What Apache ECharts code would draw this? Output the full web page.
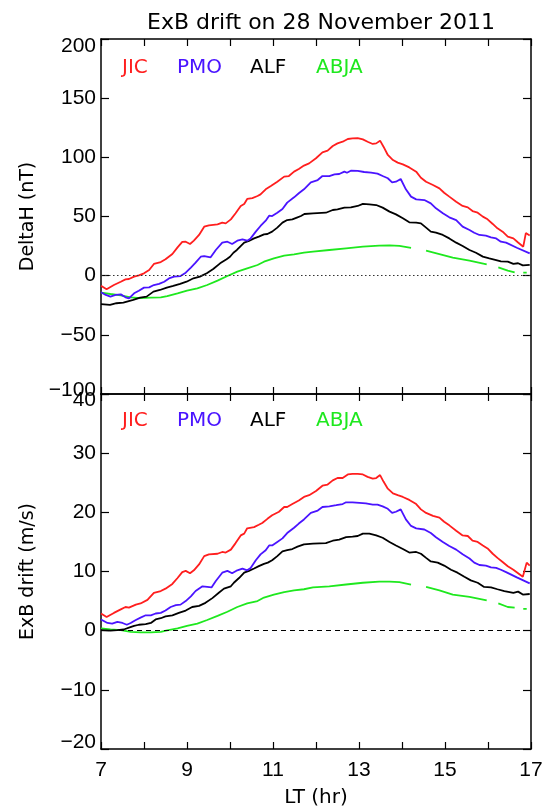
<!DOCTYPE html>
<html>
<head>
<meta charset="utf-8">
<script src="https://cdn.jsdelivr.net/npm/echarts@6/dist/echarts.min.js"></script>
<style>html,body{margin:0;padding:0;background:#fff;}#c{width:548px;height:809px;}</style>
</head>
<body>
<div id="c"></div>
<script>
// ---- data (LT hour, value) ----
const xTicks = [7, 9, 11, 13, 15, 17];
const stationNames = ['JIC', 'PMO', 'ALF', 'ABJA'];

const jicDeltaH = [[7.0,-8.5],[7.13,-11.5],[7.30,-7.9],[7.46,-5.1],[7.57,-3.1],[7.65,-2.8],[7.77,-0.8],[7.88,0.3],[8.0,2.0],[8.12,4.8],[8.23,9.9],[8.39,11.5],[8.50,13.8],[8.66,18.3],[8.78,23.9],[8.89,28.5],[8.97,28.7],[9.07,26.8],[9.16,29.6],[9.28,34.4],[9.40,41.4],[9.51,42.5],[9.71,43.4],[9.82,44.8],[9.90,44.2],[10.02,47.6],[10.13,52.7],[10.25,58.9],[10.33,60.6],[10.40,64.8],[10.52,65.6],[10.64,67.3],[10.71,68.7],[10.83,73],[10.95,75.8],[11.10,79.4],[11.26,83.7],[11.37,84.2],[11.49,87.9],[11.60,90.1],[11.72,93],[11.84,94.9],[12.0,99.2],[12.15,104.2],[12.27,105.6],[12.39,109.6],[12.5,111.8],[12.62,113.2],[12.74,115.5],[12.85,116],[12.97,116.3],[13.09,115.2],[13.2,113.2],[13.32,111.3],[13.4,111.8],[13.49,114.1],[13.57,109],[13.67,102],[13.79,97.7],[13.90,95.5],[14.02,94.1],[14.17,91.5],[14.33,87.9],[14.44,82.8],[14.56,79.4],[14.72,76.6],[14.87,73.8],[14.98,70.1],[15.10,66.8],[15.26,62.5],[15.41,58.9],[15.53,57.7],[15.64,54.6],[15.76,53.2],[15.88,49.9],[15.99,47.6],[16.11,43.7],[16.22,40],[16.34,37.2],[16.46,33],[16.59,31.5],[16.70,28],[16.82,24.5],[16.88,36],[16.97,34]];
const pmoDeltaH = [[7.0,-14],[7.11,-16.3],[7.22,-17.7],[7.34,-16.3],[7.46,-15.8],[7.57,-18.3],[7.65,-19.2],[7.77,-14.9],[7.88,-12.7],[8.0,-10.1],[8.12,-9.9],[8.23,-7.9],[8.35,-7],[8.47,-5.1],[8.58,-2.3],[8.70,-0.8],[8.85,-0.3],[8.97,2.5],[9.09,6.8],[9.20,11],[9.32,16],[9.40,16.6],[9.55,15.5],[9.67,21.7],[9.82,27.9],[9.94,28.7],[10.05,26.8],[10.17,29.6],[10.29,30.7],[10.40,29.6],[10.48,31.5],[10.6,37.2],[10.71,42],[10.83,46.5],[10.91,50.7],[10.98,50.4],[11.1,53.2],[11.22,56.3],[11.33,61.7],[11.49,66.2],[11.6,69.6],[11.72,73],[11.88,78.9],[12.04,80.8],[12.15,84.2],[12.31,84.2],[12.43,85.6],[12.54,85.9],[12.66,87.9],[12.72,87],[12.81,88.7],[12.97,88.5],[13.12,87.6],[13.28,87],[13.43,86.2],[13.55,84.2],[13.67,82.3],[13.77,78.9],[13.86,79.4],[13.97,81.7],[14.09,73],[14.21,66.8],[14.33,64.5],[14.52,63.9],[14.67,61.1],[14.79,56.9],[14.95,52.7],[15.10,49.3],[15.26,47],[15.41,41.4],[15.57,38.6],[15.68,36.3],[15.80,34.4],[15.95,33.8],[16.07,32.4],[16.19,31.5],[16.30,28.7],[16.42,27.9],[16.67,23.6],[16.97,18.9]];
const alfDeltaH = [[7.0,-24.1],[7.21,-24.7],[7.36,-23.3],[7.52,-22.8],[7.75,-20.5],[7.91,-18.5],[8.06,-17.7],[8.22,-13.5],[8.37,-12.1],[8.53,-10.1],[8.68,-8.7],[8.84,-7],[8.99,-5.1],[9.15,-2.2],[9.30,-0.8],[9.46,2],[9.61,5.6],[9.77,10.4],[9.92,13.8],[10.0,16],[10.08,19.4],[10.16,21.7],[10.33,27.9],[10.44,29.3],[10.56,31.5],[10.67,33],[10.79,34.9],[10.87,35.2],[10.98,37.2],[11.1,40.6],[11.22,44.8],[11.33,47],[11.45,47.6],[11.57,49.3],[11.65,50.4],[11.73,52.1],[11.93,52.7],[12.23,53.2],[12.39,55.5],[12.50,56],[12.66,57.5],[12.81,57.7],[12.97,58.9],[13.09,60.6],[13.24,60.3],[13.40,59.7],[13.55,57.5],[13.71,54.1],[13.86,51.8],[14.02,48.5],[14.17,45.1],[14.33,44.8],[14.44,44.2],[14.56,40.6],[14.67,37.2],[14.79,36.3],[14.95,34.4],[15.10,31.5],[15.26,27.9],[15.41,25.1],[15.57,21.7],[15.72,19.4],[15.88,16.1],[16.03,14.6],[16.19,13.2],[16.30,12.1],[16.46,11.8],[16.59,9.9],[16.70,10.5],[16.81,8.7],[16.97,9.2]];
const abjaDeltaH = [[7.0,-14.4],[7.22,-15.5],[7.46,-16.6],[7.69,-18.3],[7.92,-18.9],[8.16,-18.6],[8.39,-18.3],[8.54,-17.2],[8.78,-14.9],[9.0,-12.7],[9.24,-10.7],[9.47,-7.9],[9.71,-4.2],[9.94,-0.3],[10.17,3.4],[10.40,6.2],[10.64,9],[10.79,11.8],[11.02,14.6],[11.26,16.9],[11.49,18],[11.72,19.4],[11.93,20.3],[12.31,21.7],[12.70,23.1],[13.09,24.5],[13.47,25.4],[13.71,25.6],[13.94,25.1],[14.21,23.4],[14.38,null],[14.56,21.1],[14.87,18.3],[15.18,15.2],[15.57,12.7],[15.97,9.6],[16.1,null],[16.24,7],[16.46,4.2],[16.62,2.8],[16.72,null],[16.82,2.5],[16.90,2.5]];

const jicDrift = [[7.0,2.9],[7.13,2.3],[7.30,3.0],[7.46,3.6],[7.57,4.0],[7.65,3.9],[7.81,4.4],[7.92,4.6],[8.08,5.2],[8.23,6.4],[8.39,6.7],[8.50,7.1],[8.66,7.9],[8.78,8.9],[8.89,9.9],[8.97,10.1],[9.07,9.7],[9.16,10.2],[9.28,11.2],[9.40,12.6],[9.51,12.9],[9.71,13.0],[9.82,13.3],[9.90,13.2],[10.02,13.7],[10.13,14.8],[10.25,16.1],[10.33,16.4],[10.40,17.3],[10.56,17.5],[10.67,17.9],[10.75,18.2],[10.87,18.9],[10.98,19.5],[11.14,20.1],[11.26,20.9],[11.33,20.9],[11.45,21.4],[11.6,22.0],[11.72,22.6],[11.84,22.9],[12.0,23.6],[12.15,24.5],[12.27,24.7],[12.39,25.4],[12.5,25.8],[12.62,25.8],[12.74,26.4],[12.85,26.5],[12.97,26.5],[13.09,26.4],[13.2,26],[13.32,25.7],[13.4,25.8],[13.49,26.3],[13.57,25.2],[13.67,24],[13.79,23.2],[13.90,22.9],[14.02,22.6],[14.17,22.1],[14.33,21.4],[14.44,20.5],[14.56,19.9],[14.72,19.4],[14.87,19.1],[14.98,18.4],[15.10,17.8],[15.26,16.9],[15.41,16.1],[15.53,16.0],[15.64,15.2],[15.76,15.0],[15.88,14.4],[15.99,13.9],[16.11,13.0],[16.22,12.3],[16.34,11.6],[16.46,10.9],[16.59,10.3],[16.81,9.1],[16.9,11.5],[16.97,11.0]];
const pmoDrift = [[7.0,1.9],[7.15,1.3],[7.26,1.2],[7.38,1.5],[7.5,1.3],[7.6,1.0],[7.69,1.3],[7.81,1.8],[7.92,2.2],[8.04,2.6],[8.16,2.6],[8.27,2.9],[8.39,3.0],[8.50,3.4],[8.62,4.0],[8.74,4.3],[8.85,4.4],[8.97,5.0],[9.09,5.8],[9.20,6.7],[9.36,7.5],[9.47,7.4],[9.57,7.3],[9.67,8.4],[9.82,9.8],[9.94,10.1],[10.05,9.7],[10.17,10.2],[10.29,10.5],[10.40,10.2],[10.48,10.6],[10.6,11.9],[10.71,12.9],[10.83,13.6],[10.91,14.4],[10.98,14.4],[11.1,15.0],[11.22,15.6],[11.33,16.5],[11.49,17.4],[11.6,18.1],[11.72,18.8],[11.88,19.9],[12.04,20.3],[12.15,20.9],[12.31,21.0],[12.47,21.2],[12.62,21.4],[12.7,21.7],[12.85,21.7],[13.01,21.6],[13.16,21.5],[13.32,21.3],[13.43,21.3],[13.55,21.0],[13.67,20.6],[13.77,19.9],[13.86,20.1],[13.97,20.5],[14.09,18.8],[14.21,17.7],[14.33,17.3],[14.52,17.1],[14.67,16.5],[14.79,15.8],[14.95,15.0],[15.10,14.3],[15.26,13.7],[15.41,12.9],[15.57,12.2],[15.68,11.5],[15.80,11.1],[15.95,11.0],[16.07,10.7],[16.19,10.6],[16.30,10.3],[16.42,9.9],[16.67,9.0],[16.97,8.0]];
const alfDrift = [[7.0,0.1],[7.22,0.0],[7.38,0.1],[7.53,0.2],[7.65,0.5],[7.77,0.8],[7.88,1.0],[8.04,1.1],[8.16,1.3],[8.27,1.9],[8.39,2.1],[8.5,2.4],[8.66,2.6],[8.81,3.0],[8.97,3.4],[9.12,4.0],[9.28,4.2],[9.43,4.7],[9.59,5.5],[9.74,6.4],[9.86,7.1],[10.02,7.5],[10.09,8.1],[10.21,8.9],[10.33,9.8],[10.44,10.1],[10.56,10.5],[10.67,10.9],[10.79,11.3],[10.88,11.5],[10.98,11.9],[11.1,12.6],[11.22,13.4],[11.33,13.6],[11.45,13.8],[11.57,14.2],[11.72,14.6],[11.93,14.7],[12.23,14.8],[12.39,15.2],[12.54,15.4],[12.70,15.8],[12.85,15.9],[12.97,16.0],[13.09,16.4],[13.24,16.4],[13.40,16.1],[13.55,15.7],[13.71,15.0],[13.86,14.4],[14.02,13.8],[14.17,13.2],[14.33,13.3],[14.44,13.0],[14.56,12.3],[14.67,11.7],[14.83,11.5],[14.98,11.0],[15.14,10.3],[15.29,9.8],[15.45,9.1],[15.60,8.5],[15.76,8.1],[15.91,7.4],[16.07,7.3],[16.22,7.0],[16.38,6.7],[16.59,6.4],[16.70,6.6],[16.81,6.1],[16.97,6.2]];
const abjaDrift = [[7.0,0.4],[7.22,0.2],[7.46,0.1],[7.69,-0.2],[7.92,-0.3],[8.16,-0.3],[8.39,-0.2],[8.54,0.05],[8.78,0.4],[9.0,0.8],[9.24,1.2],[9.47,1.8],[9.71,2.5],[9.94,3.2],[10.17,4.0],[10.40,4.6],[10.64,5.0],[10.79,5.6],[11.02,6.1],[11.26,6.5],[11.49,6.8],[11.72,7.0],[11.93,7.3],[12.31,7.5],[12.70,7.8],[13.09,8.1],[13.47,8.3],[13.71,8.3],[13.94,8.2],[14.21,7.8],[14.38,null],[14.56,7.4],[14.87,6.8],[15.18,6.1],[15.57,5.7],[15.97,5.1],[16.1,null],[16.24,4.6],[16.46,4.0],[16.62,3.9],[16.72,null],[16.82,3.7],[16.90,3.7]];

// ---- styling ----
const colors = {JIC:'#ff1e1e', PMO:'#4a14ff', ALF:'#000000', ABJA:'#1ee81e'};
const numFont = 'Liberation Sans';
const txtFont = 'DejaVu Sans';
const minus = v => String(v).replace('-', '\u2212');

function xAx(grid, pos, labels, name) {
  return {
    type:'value', gridIndex:grid, position:pos, min:7, max:17, interval:1,
    name: name || '', nameLocation:'middle', nameGap:39,
    nameTextStyle:{fontFamily:txtFont, fontSize:20, color:'#000'},
    axisLine:{show:true, onZero:false, lineStyle:{color:'#000', width:1.5}},
    axisTick:{show:true, inside:true, length:7, lineStyle:{color:'#000', width:1.2}},
    axisLabel:{show:labels, margin:11, fontFamily:numFont, fontSize:21, color:'#000',
      formatter: v => (xTicks.indexOf(v) >= 0 ? String(v) : '')},
    splitLine:{show:false}
  };
}
function yAx(grid, pos, min, max, step, labels, name, padTop, padBottom) {
  const lab = {fontFamily:numFont, fontSize:21, color:'#000'};
  return {
    type:'value', gridIndex:grid, position:pos, min:min, max:max, interval:step,
    name: name || '', nameLocation:'middle', nameGap:63,
    nameTextStyle:{fontFamily:txtFont, fontSize:19, color:'#000'},
    axisLine:{show:true, onZero:false, lineStyle:{color:'#000', width:1.5}},
    axisTick:{show:true, inside:true, length:8, lineStyle:{color:'#000', width:1.2}},
    axisLabel:{show:labels, margin:5, fontFamily:numFont, fontSize:21, color:'#000',
      showMinLabel:true, showMaxLabel:true,
      formatter: v => v === max ? '{dn|' + minus(v) + '}' : (v === min ? '{up|' + minus(v) + '}' : minus(v)),
      rich:{dn:Object.assign({padding:[padTop,0,0,0]}, lab), up:Object.assign({padding:[0,0,padBottom,0]}, lab)}},
    splitLine:{show:false}
  };
}
function line(name, data, xi, yi, extra) {
  return Object.assign({
    type:'line', name:name, data:data, xAxisIndex:xi, yAxisIndex:yi,
    symbol:'none', showSymbol:false, connectNulls:false, silent:true,
    lineStyle:{color:colors[name], width:1.8}, itemStyle:{color:colors[name]}
  }, extra || {});
}

const chart = echarts.init(document.getElementById('c'), null, {renderer:'canvas'});
const legendY = [69, 422];
const legendX = [122, 177, 250, 316];
const graphics = [];
legendY.forEach(y => stationNames.forEach((s, i) => graphics.push({
  type:'text', left:legendX[i], top:y - 11,
  style:{text:s, fill:colors[s], font:'20px "DejaVu Sans"'}
})));

chart.setOption({
  animation:false,
  backgroundColor:'#fff',
  title:{text:'ExB drift on 28 November 2011', left:316, top:7, textAlign:'center',
    textStyle:{fontFamily:txtFont, fontSize:22, fontWeight:'normal', color:'#000'}},
  grid:[{left:101, top:39, width:430, height:355},{left:101, top:394, width:430, height:356}],
  xAxis:[xAx(0,'bottom',false), xAx(0,'top',false), xAx(1,'bottom',true,'LT (hr)'), xAx(1,'top',false)],
  yAxis:[yAx(0,'left',-100,200,50,true,'DeltaH (nT)',15,8), yAx(0,'right',-100,200,50,false,'',0,0),
         yAx(1,'left',-20,40,10,true,'ExB drift (m/s)',12,14), yAx(1,'right',-20,40,10,false,'',0,0)],
  graphic:graphics,
  series:[
    line('ABJA', abjaDeltaH, 0, 0, {markLine:{silent:true, symbol:'none', label:{show:false},
      lineStyle:{type:[1.5,2.5], color:'#333', width:1.2}, data:[{yAxis:0}]}}),
    line('ALF', alfDeltaH, 0, 0),
    line('PMO', pmoDeltaH, 0, 0),
    line('JIC', jicDeltaH, 0, 0),
    line('ABJA', abjaDrift, 2, 2, {markLine:{silent:true, symbol:'none', label:{show:false},
      lineStyle:{type:[5,4], color:'#000', width:1.2}, data:[{yAxis:0}]}}),
    line('ALF', alfDrift, 2, 2),
    line('PMO', pmoDrift, 2, 2),
    line('JIC', jicDrift, 2, 2)
  ]
});
</script>
</body>
</html>
